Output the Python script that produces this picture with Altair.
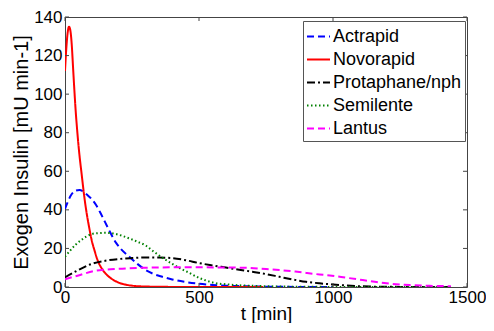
import altair as alt
import pandas as pd

series_names = ["Actrapid", "Novorapid", "Protaphane/nph", "Semilente", "Lantus"]

t_actrapid = [0, 10, 20, 30, 40, 54, 70, 85, 100, 116, 130, 150, 170, 190, 210, 240, 270, 300,
              330, 363, 400, 450, 486, 550, 600, 700, 800, 1000]
v_actrapid = [40.5, 44, 47, 49, 50, 50.3, 49.3, 47.5, 45.5, 42.5, 39, 33.5, 28, 23, 19.5, 15.7, 12, 8.9,
              6.8, 5.3, 3.9, 2.6, 1.9, 1.1, 0.7, 0.3, 0.1, 0]

t_novorapid = [0, 5, 10, 15, 20, 25, 30, 35, 40, 45, 50, 55, 60, 65, 70, 80, 90, 100, 110, 120,
               140, 160, 180, 200, 220, 250, 300, 400, 500, 600, 740]
v_novorapid = [112, 124, 132, 135, 133, 126, 114, 102, 91, 82, 74, 67, 61, 55, 49, 39, 31, 24, 19, 14.5,
               9, 5.8, 3.7, 2.3, 1.4, 0.7, 0.25, 0.05, 0, 0, 0]

t_protaphane = [0, 50, 100, 150, 200, 250, 300, 350, 400, 450, 500, 550, 600, 650, 700, 750, 800,
                850, 900, 950, 1000, 1050, 1100, 1150, 1200, 1300, 1440]
v_protaphane = [5, 8.8, 12, 13.6, 14.5, 15, 15.3, 15.3, 15, 13.9, 12.4, 11.2, 10.1, 9.0, 7.9, 6.7, 5.3,
                3.9, 2.7, 1.9, 1.3, 0.8, 0.4, 0.2, 0.1, 0.03, 0]

t_semilente = [0, 20, 40, 60, 80, 104, 130, 150, 178, 210, 240, 270, 301, 330, 363, 400, 430, 460,
               499, 530, 563, 600, 650, 700, 800, 900, 1000, 1100, 1440]
v_semilente = [15.7, 19, 22, 24.3, 26.2, 27.6, 28, 28.1, 27.8, 26.7, 25.2, 23.5, 21.5, 18.5, 15.2, 12, 9.6, 7.6,
               4.8, 3.2, 2, 1.4, 0.9, 0.6, 0.25, 0.1, 0.05, 0.02, 0]

t_lantus = [0, 50, 116, 150, 200, 240, 300, 400, 489, 600, 674, 750, 800, 859, 900, 950, 988, 1050,
            1111, 1170, 1235, 1300, 1360, 1420, 1440]
v_lantus = [4, 6, 8.5, 9, 9.4, 9.7, 10, 10.2, 10.2, 10.1, 10, 9.3, 8.8, 8, 7.3, 6.5, 6, 4.8,
            3.6, 2.4, 1.4, 0.9, 0.6, 0.45, 0.4]

colors = ["#0000ff", "#ff0000", "#000000", "#008000", "#ff00ff"]
dashes = [[7, 4], [1, 0], [8, 3, 2, 3], [1.5, 2.5], [7, 4]]
widths = [2, 2, 2, 1.5, 2]

x_ticks = [0, 500, 1000, 1500]
y_ticks = [0, 20, 40, 60, 80, 100, 120, 140]

W, H = 402, 270

frames = []
for name, ts, vs in zip(series_names,
                        [t_actrapid, t_novorapid, t_protaphane, t_semilente, t_lantus],
                        [v_actrapid, v_novorapid, v_protaphane, v_semilente, v_lantus]):
    frames.append(pd.DataFrame({"t": ts, "v": vs, "series": name}))
df = pd.concat(frames, ignore_index=True)

xscale = alt.Scale(domain=[0, 1500], nice=False)
yscale = alt.Scale(domain=[0, 140], nice=False)

xaxis = alt.Axis(values=x_ticks, title="t [min]", titleFontSize=19, labelPadding=2,
                 labelFlush=False, format="d", titleY=32, titleBaseline="alphabetic")
yaxis = alt.Axis(values=y_ticks, title="Exogen Insulin [mU min-1]", titleFontSize=20,
                 labelPadding=3, titlePadding=2, labelFlush=False)

leg = alt.Legend(orient="none", legendX=238, legendY=4, symbolType="stroke", symbolSize=529,
                 symbolStrokeWidth=2, labelFontSize=18, labelFont="Liberation Sans", labelColor="black",
                 strokeColor="#555555", fillColor="white", padding=3, rowPadding=1, labelOffset=2,
                 title=None)

lines = alt.Chart(df).mark_line(interpolate="monotone", clip=True).encode(
    x=alt.X("t:Q", scale=xscale, axis=xaxis),
    y=alt.Y("v:Q", scale=yscale, axis=yaxis),
    color=alt.Color("series:N", scale=alt.Scale(domain=series_names, range=colors), legend=leg),
    strokeDash=alt.StrokeDash("series:N", scale=alt.Scale(domain=series_names, range=dashes), legend=leg),
    strokeWidth=alt.StrokeWidth("series:N", scale=alt.Scale(domain=series_names, range=widths), legend=leg),
    detail="series:N",
)

xt = pd.DataFrame({"t": x_ticks})
yt = pd.DataFrame({"v": y_ticks})
tick_len = 4
tick_color = "#444444"
bottom_ticks = alt.Chart(xt).mark_rule(color=tick_color).encode(
    x=alt.X("t:Q", scale=xscale, axis=xaxis), y=alt.value(H), y2=alt.value(H - tick_len))
top_ticks = alt.Chart(xt).mark_rule(color=tick_color).encode(
    x=alt.X("t:Q", scale=xscale, axis=xaxis), y=alt.value(0), y2=alt.value(tick_len))
left_ticks = alt.Chart(yt).mark_rule(color=tick_color).encode(
    y=alt.Y("v:Q", scale=yscale, axis=yaxis), x=alt.value(0), x2=alt.value(tick_len))
right_ticks = alt.Chart(yt).mark_rule(color=tick_color).encode(
    y=alt.Y("v:Q", scale=yscale, axis=yaxis), x=alt.value(W), x2=alt.value(W - tick_len))

chart = alt.layer(lines, bottom_ticks, top_ticks, left_ticks, right_ticks).properties(
    width=W, height=H,
    autosize=alt.AutoSizeParams(type="none"),
    padding={"left": 57, "top": 9, "right": 19, "bottom": 36},
    background="white",
).configure_view(stroke="#444444", strokeWidth=1).configure_axis(
    grid=False, ticks=False, domain=False,
    labelFont="Liberation Sans", labelFontSize=17, labelColor="black",
    titleFont="Liberation Sans", titleFontWeight="normal", titleColor="black",
)

chart.save("out.html", embed_options={"renderer": "svg", "actions": False})
